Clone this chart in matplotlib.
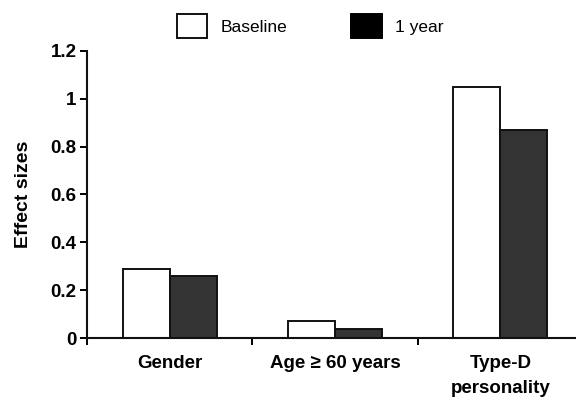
import matplotlib
matplotlib.use("Agg")
import matplotlib.pyplot as plt
import numpy as np

plt.rcParams['font.family'] = ['Liberation Sans', 'DejaVu Sans']

categories = ["Gender", "Age \u2265 60 years", "Type-D\npersonality"]
series_names = ["Baseline", "1 year"]
baseline = [0.29, 0.07, 1.05]
one_year = [0.26, 0.04, 0.87]
yticks = [0, 0.2, 0.4, 0.6, 0.8, 1.0, 1.2]
ytick_labels = ["0", "0.2", "0.4", "0.6", "0.8", "1", "1.2"]

fig = plt.figure(figsize=(5.76, 3.97), dpi=100)
ax = fig.add_axes([0.151, 0.148, 0.861, 0.7244])

x = np.arange(len(categories))
w = 0.285
b1 = ax.bar(x - w/2, baseline, w, color='white', edgecolor='#111111', linewidth=1.4, label=series_names[0])
b2 = ax.bar(x + w/2, one_year, w, color='#333333', edgecolor='#111111', linewidth=1.4, label=series_names[1])

ax.set_xlim(-0.5, 2.5)
ax.set_ylim(0, 1.2)
ax.set_yticks(yticks)
ax.set_yticklabels(ytick_labels, fontsize=13.5, fontweight='bold')
ax.set_xticks(x)
ax.set_xticklabels(categories, fontsize=13.5, fontweight='bold', linespacing=1.6)
ax.set_xticks([-0.5, 0.5, 1.5, 2.5], minor=True)
ax.tick_params(axis='x', which='major', length=0, pad=12)
ax.tick_params(axis='x', which='minor', length=5, width=1.4, direction='out')
ax.tick_params(axis='y', length=5, width=1.4, pad=2.5)
for s in ['top', 'right']:
    ax.spines[s].set_visible(False)
for s in ['left', 'bottom']:
    ax.spines[s].set_linewidth(1.5)
    ax.spines[s].set_color('#111111')
ax.spines['bottom'].set_zorder(5)

ax.set_ylabel("Effect sizes", fontsize=14, fontweight='bold', labelpad=13)

leg = fig.legend(handles=[b1, b2], loc='center', bbox_to_anchor=(310/576, 1 - 26/397),
                 ncol=2, frameon=False, fontsize=12.5, handlelength=1.75, handleheight=1.75,
                 handletextpad=0.75, columnspacing=3.7, borderpad=0)
handles = leg.legend_handles
handles[0].set_facecolor('white'); handles[0].set_edgecolor('#111111'); handles[0].set_linewidth(1.4)
handles[1].set_facecolor('black'); handles[1].set_edgecolor('black')

fig.savefig("out.png", dpi=100)
